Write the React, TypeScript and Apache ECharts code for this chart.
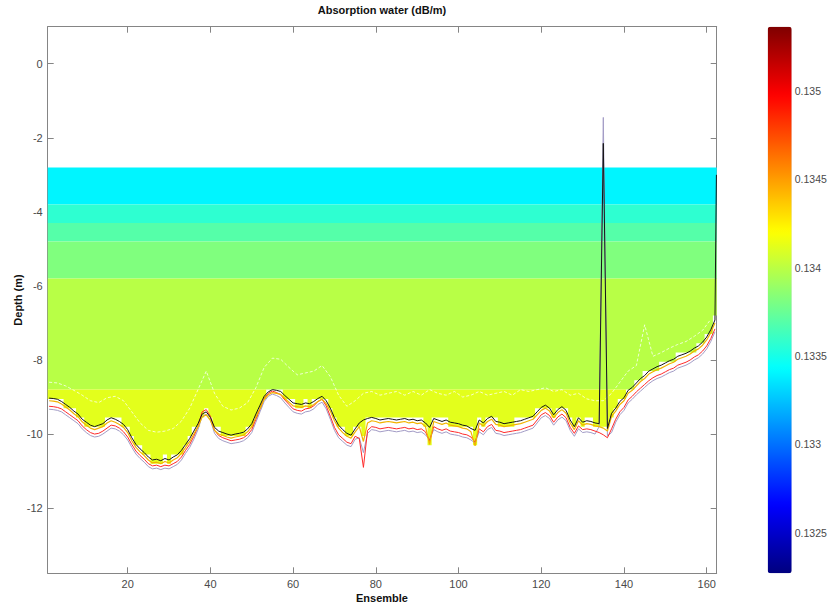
import React, { useEffect, useRef } from 'react';
import * as echarts from 'echarts';

// ---------------- data ----------------
const ensembles: number[] = Array.from({ length: 162 }, (_, i) => i + 1);

// bottom-track depth (black line)
const bottomBlack = [
  -9.03, -9.04, -9.06, -9.12, -9.20, -9.28, -9.38, -9.46, -9.60, -9.68,
  -9.76, -9.80, -9.76, -9.72, -9.62, -9.56, -9.60, -9.66, -9.74, -9.88,
  -10.10, -10.28, -10.40, -10.50, -10.62, -10.70, -10.68, -10.72, -10.66, -10.70,
  -10.62, -10.56, -10.44, -10.28, -10.12, -9.92, -9.72, -9.46, -9.40, -9.55,
  -9.82, -9.92, -9.96, -10.00, -10.03, -10.00, -9.98, -9.95, -9.86, -9.72,
  -9.46, -9.22, -8.98, -8.86, -8.80, -8.82, -8.85, -8.96, -9.06, -9.16,
  -9.18, -9.20, -9.16, -9.18, -9.12, -9.04, -8.98, -9.10, -9.30, -9.56,
  -9.76, -9.88, -9.98, -10.03, -9.86, -9.70, -9.62, -9.58, -9.55, -9.58,
  -9.62, -9.60, -9.58, -9.60, -9.62, -9.60, -9.58, -9.62, -9.60, -9.64,
  -9.62, -9.70, -9.82, -9.58, -9.62, -9.66, -9.62, -9.68, -9.70, -9.72,
  -9.76, -9.78, -9.85, -9.90, -9.62, -9.70, -9.58, -9.52, -9.66, -9.68,
  -9.72, -9.70, -9.68, -9.66, -9.64, -9.60, -9.56, -9.52, -9.40, -9.28,
  -9.22, -9.30, -9.48, -9.34, -9.26, -9.36, -9.62, -9.80, -9.56, -9.68,
  -9.64, -9.66, -9.70, -9.72, -2.15, -9.85, -9.44, -9.30, -9.12, -9.02,
  -8.82, -8.74, -8.62, -8.50, -8.42, -8.30, -8.24, -8.18, -8.14, -8.08,
  -8.02, -7.98, -7.90, -7.86, -7.82, -7.76, -7.68, -7.62, -7.52, -7.38,
  -7.18, -6.92,
];
const blackEdgeEnsemble = 162.35;
const blackEdgeDepth = -3.0;

const bottomOrange = [
  -9.10, -9.11, -9.13, -9.19, -9.27, -9.35, -9.45, -9.53, -9.67, -9.76,
  -9.84, -9.88, -9.84, -9.80, -9.70, -9.64, -9.68, -9.74, -9.82, -9.96,
  -10.18, -10.36, -10.48, -10.58, -10.70, -10.78, -10.76, -10.80, -10.74, -10.78,
  -10.70, -10.64, -10.52, -10.36, -10.20, -10.00, -9.80, -9.54, -9.48, -9.63,
  -9.90, -10.00, -10.04, -10.08, -10.11, -10.08, -10.06, -10.03, -9.94, -9.80,
  -9.54, -9.30, -9.06, -8.94, -8.88, -8.90, -8.93, -9.04, -9.14, -9.24,
  -9.26, -9.28, -9.24, -9.26, -9.20, -9.12, -9.06, -9.18, -9.38, -9.64,
  -9.84, -9.96, -10.06, -10.11, -9.94, -9.80, -10.20, -9.70, -9.64, -9.66,
  -9.70, -9.68, -9.66, -9.68, -9.70, -9.68, -9.66, -9.70, -9.68, -9.72,
  -9.70, -9.80, -10.28, -9.66, -9.70, -9.74, -9.70, -9.76, -9.78, -9.80,
  -9.84, -9.86, -9.94, -10.32, -9.70, -9.78, -9.66, -9.60, -9.74, -9.76,
  -9.80, -9.78, -9.76, -9.74, -9.72, -9.68, -9.64, -9.60, -9.48, -9.36,
  -9.30, -9.38, -9.56, -9.42, -9.34, -9.44, -9.70, -9.88, -9.64, -9.76,
  -9.72, -9.74, -9.78, -9.80, -9.84, -9.92, -9.52, -9.38, -9.20, -9.10,
  -8.90, -8.82, -8.70, -8.58, -8.50, -8.38, -8.32, -8.26, -8.22, -8.16,
  -8.10, -8.06, -7.98, -7.94, -7.90, -7.84, -7.76, -7.70, -7.60, -7.46,
  -7.26, -7.00,
];

const bottomRed = [
  -9.25, -9.26, -9.28, -9.32, -9.40, -9.48, -9.56, -9.64, -9.78, -9.88,
  -9.96, -10.00, -9.98, -9.92, -9.84, -9.76, -9.78, -9.84, -9.94, -10.08,
  -10.28, -10.46, -10.58, -10.68, -10.80, -10.86, -10.84, -10.88, -10.84, -10.86,
  -10.80, -10.74, -10.62, -10.44, -10.28, -10.06, -9.80, -9.40, -9.34, -9.52,
  -9.90, -10.04, -10.10, -10.14, -10.18, -10.16, -10.14, -10.10, -10.02, -9.88,
  -9.60, -9.32, -9.04, -8.90, -8.84, -8.88, -8.94, -9.08, -9.20, -9.32,
  -9.36, -9.38, -9.32, -9.30, -9.24, -9.12, -9.06, -9.24, -9.52, -9.82,
  -10.02, -10.12, -10.22, -10.26, -10.06, -10.12, -10.90, -9.90, -9.80, -9.82,
  -9.86, -9.84, -9.82, -9.84, -9.86, -9.84, -9.82, -9.86, -9.84, -9.88,
  -9.86, -9.94, -10.18, -9.80, -9.86, -9.90, -9.86, -9.92, -9.94, -9.96,
  -10.00, -10.02, -10.08, -10.22, -9.86, -9.94, -9.80, -9.74, -9.90, -9.92,
  -9.96, -9.94, -9.92, -9.90, -9.88, -9.84, -9.80, -9.76, -9.62, -9.48,
  -9.42, -9.50, -9.68, -9.54, -9.46, -9.56, -9.82, -9.98, -9.78, -9.88,
  -9.86, -9.88, -9.92, -9.96, -10.02, -10.10, -9.86, -9.60, -9.40, -9.28,
  -9.08, -8.98, -8.86, -8.76, -8.66, -8.56, -8.48, -8.42, -8.38, -8.32,
  -8.26, -8.22, -8.14, -8.10, -8.06, -8.00, -7.92, -7.86, -7.76, -7.62,
  -7.42, -7.16,
];

const bottomLavender = [
  -9.33, -9.34, -9.36, -9.40, -9.48, -9.56, -9.64, -9.72, -9.86, -9.96,
  -10.04, -10.08, -10.06, -10.00, -9.92, -9.84, -9.86, -9.92, -10.02, -10.16,
  -10.36, -10.54, -10.66, -10.76, -10.88, -10.94, -10.92, -10.96, -10.92, -10.94,
  -10.88, -10.82, -10.70, -10.52, -10.36, -10.14, -9.88, -9.52, -9.46, -9.62,
  -9.98, -10.12, -10.18, -10.22, -10.26, -10.24, -10.22, -10.18, -10.10, -9.96,
  -9.68, -9.40, -9.12, -8.98, -8.92, -8.96, -9.02, -9.16, -9.28, -9.40,
  -9.44, -9.46, -9.40, -9.38, -9.32, -9.20, -9.14, -9.32, -9.60, -9.90,
  -10.10, -10.20, -10.30, -10.34, -10.14, -10.10, -10.50, -9.98, -9.88, -9.90,
  -9.94, -9.92, -9.90, -9.92, -9.94, -9.92, -9.90, -9.94, -9.92, -9.96,
  -9.94, -10.02, -10.16, -9.88, -9.94, -9.98, -9.94, -10.00, -10.02, -10.04,
  -10.08, -10.10, -10.16, -10.24, -9.94, -10.02, -9.88, -9.82, -9.98, -10.00,
  -10.04, -10.02, -10.00, -9.98, -9.96, -9.92, -9.88, -9.84, -9.70, -9.56,
  -9.50, -9.58, -9.76, -9.62, -9.54, -9.64, -9.90, -10.06, -9.86, -9.96,
  -9.94, -9.96, -10.00, -9.80, -1.45, -10.05, -9.96, -9.68, -9.48, -9.36,
  -9.16, -9.06, -8.94, -8.84, -8.74, -8.64, -8.56, -8.50, -8.46, -8.40,
  -8.34, -8.30, -8.22, -8.18, -8.14, -8.08, -8.00, -7.94, -7.84, -7.70,
  -7.50, -7.24,
];

// white dashed line, read at odd ensembles 1, 3, ..., 161
const whiteEnsembles: number[] = Array.from({ length: 81 }, (_, i) => 2 * i + 1);
const whiteLine = [
  -8.60, -8.62, -8.70, -8.82, -8.95, -9.10, -9.15, -9.02, -8.98, -9.10,
  -9.40, -9.70, -9.90, -9.95, -9.92, -9.85, -9.65, -9.30, -8.80, -8.30,
  -8.90, -9.25, -9.35, -9.30, -9.15, -8.75, -8.20, -7.95, -7.98, -8.20,
  -8.40, -8.35, -8.30, -8.15, -8.45, -8.95, -9.25, -9.10, -8.90, -8.85,
  -8.95, -8.90, -8.85, -8.95, -8.85, -8.95, -8.80, -8.90, -8.95, -8.85,
  -9.00, -8.95, -8.85, -8.95, -8.90, -8.85, -8.95, -8.80, -8.85, -8.80,
  -8.75, -8.85, -8.80, -8.95, -8.90, -9.05, -9.10, -9.10, -8.90, -8.60,
  -8.30, -8.15, -7.05, -7.90, -7.80, -7.68, -7.58, -7.50, -7.36, -7.20,
  -6.90,
];

// absorption (dB/m) per depth band
const bandTop = [-2.8, -3.8, -4.3, -4.8, -5.8, -8.8];
const bandBottom = [-3.8, -4.3, -4.8, -5.8, -8.8, -13.5];
const bandValue = [0.1334, 0.13357, 0.13369, 0.13382, 0.13399, 0.13412];
const firstBinTop = -2.8;
const binSize = 0.25;

const xTicks = [20, 40, 60, 80, 100, 120, 140, 160];
const yTicks = [0, -2, -4, -6, -8, -10, -12];
const cbTicks = [0.1325, 0.133, 0.1335, 0.134, 0.1345, 0.135];

const X_MIN = 0.66;
const X_MAX = 162.42;
const Y_MIN = -13.76;
const Y_MAX = 1.0;
const CB_MIN = 0.13227;
const CB_MAX = 0.135365;

const jet = ['#00007f', '#0000ff', '#007fff', '#00ffff', '#7fff7f', '#ffff00', '#ff7f00', '#ff0000', '#7f0000'];

const FONT = '"Liberation Sans", Arial, Helvetica, sans-serif';
const FRAME = '#858585';
const LABEL = '#4a4a4a';

// last valid bin bottom for each ensemble (bins fully above the orange line)
const cutoff = bottomOrange.map((d) => firstBinTop - binSize * Math.floor((firstBinTop - d + 0.04) / binSize));

export default function App() {
  const ref = useRef<HTMLDivElement>(null);
  useEffect(() => {
    if (!ref.current) return;
    const chart = echarts.init(ref.current, undefined, { renderer: 'svg' });

    const gridL = 47.7, gridT = 26.7, gridW = 669, gridH = 546.6;

    const tickStyle = { color: FRAME, width: 1 };

    const option: any = {
      animation: false,
      backgroundColor: '#ffffff',
      grid: [
        { left: gridL, top: gridT, width: gridW, height: gridH, containLabel: false },
        { left: 767.7, top: gridT, width: 24, height: gridH, containLabel: false },
      ],
      xAxis: [
        {
          type: 'value', gridIndex: 0, min: X_MIN, max: X_MAX, position: 'bottom',
          axisLine: { show: true, onZero: false, lineStyle: tickStyle },
          axisTick: { show: true, inside: true, length: 6, customValues: xTicks, lineStyle: tickStyle },
          axisLabel: { show: true, customValues: xTicks, margin: 5, fontSize: 11, color: LABEL, fontFamily: FONT },
          splitLine: { show: false },
        },
        {
          type: 'value', gridIndex: 0, min: X_MIN, max: X_MAX, position: 'top',
          axisLine: { show: true, onZero: false, lineStyle: tickStyle },
          axisTick: { show: true, inside: true, length: 6, customValues: xTicks, lineStyle: tickStyle },
          axisLabel: { show: false },
          splitLine: { show: false },
        },
        { type: 'value', gridIndex: 1, min: 0, max: 1, show: false },
      ],
      yAxis: [
        {
          type: 'value', gridIndex: 0, min: Y_MIN, max: Y_MAX, position: 'left',
          axisLine: { show: true, onZero: false, lineStyle: tickStyle },
          axisTick: { show: true, inside: true, length: 6, customValues: yTicks, lineStyle: tickStyle },
          axisLabel: { show: true, customValues: yTicks, margin: 5, fontSize: 11, color: LABEL, fontFamily: FONT },
          splitLine: { show: false },
        },
        {
          type: 'value', gridIndex: 0, min: Y_MIN, max: Y_MAX, position: 'right',
          axisLine: { show: true, onZero: false, lineStyle: tickStyle },
          axisTick: { show: true, inside: true, length: 6, customValues: yTicks, lineStyle: tickStyle },
          axisLabel: { show: false },
          splitLine: { show: false },
        },
        {
          type: 'value', gridIndex: 1, min: CB_MIN, max: CB_MAX, position: 'right',
          axisLine: { show: false },
          axisTick: { show: false },
          axisLabel: {
            show: true, customValues: cbTicks, margin: 3, fontSize: 10.5, color: LABEL, fontFamily: FONT,
            formatter: (v: number) => String(+(+v).toFixed(4)),
          },
          splitLine: { show: false },
        },
      ],
      visualMap: {
        type: 'continuous',
        min: CB_MIN,
        max: CB_MAX,
        dimension: 2,
        seriesIndex: 0,
        calculable: false,
        hoverLink: false,
        show: true,
        orient: 'vertical',
        left: 767.7,
        top: gridT,
        itemWidth: 24,
        itemHeight: gridH,
        padding: 0,
        text: null,
        inRange: { color: jet },
      },
      graphic: [
        {
          type: 'text', x: 382, y: 10, silent: true,
          style: { text: 'Absorption water (dB/m)', font: `bold 11px ${FONT}`, fill: '#111', align: 'center', verticalAlign: 'middle', textAlign: 'center', textVerticalAlign: 'middle' },
        },
        {
          type: 'text', x: 382, y: 598, silent: true,
          style: { text: 'Ensemble', font: `bold 11px ${FONT}`, fill: '#111', align: 'center', verticalAlign: 'middle', textAlign: 'center', textVerticalAlign: 'middle' },
        },
        {
          type: 'text', x: 18, y: 300, rotation: Math.PI / 2, silent: true,
          style: { text: 'Depth (m)', font: `bold 11px ${FONT}`, fill: '#111', align: 'center', verticalAlign: 'middle', textAlign: 'center', textVerticalAlign: 'middle' },
        },
      ],
      series: [
        {
          type: 'custom',
          coordinateSystem: 'cartesian2d',
          xAxisIndex: 0,
          yAxisIndex: 0,
          silent: true,
          z: 1,
          data: bandValue.map((v, i) => [bandTop[i], bandBottom[i], v]),
          renderItem: (params: any, api: any) => {
            const i = params.dataIndex;
            const top = bandTop[i];
            const bot = bandBottom[i];
            const pts: number[][] = [];
            pts.push(api.coord([X_MIN, top]));
            pts.push(api.coord([X_MAX, top]));
            for (let k = ensembles.length - 1; k >= 0; k--) {
              const e = ensembles[k];
              const y = Math.min(top, Math.max(bot, cutoff[k]));
              const xr = Math.min(X_MAX, e + 0.5);
              const xl = Math.max(X_MIN, e - 0.5);
              pts.push(api.coord([xr, y]));
              pts.push(api.coord([xl, y]));
            }
            return {
              type: 'polygon',
              shape: { points: pts },
              style: { fill: api.visual('color'), stroke: null, lineWidth: 0 },
            };
          },
        },
        {
          type: 'line', xAxisIndex: 0, yAxisIndex: 0, silent: true, symbol: 'none', z: 2,
          data: whiteEnsembles.map((e, k) => [e, whiteLine[k]]),
          lineStyle: { color: '#ffffff', width: 1, type: [3, 2], opacity: 0.75 },
        },
        {
          type: 'line', xAxisIndex: 0, yAxisIndex: 0, silent: true, symbol: 'none', z: 3,
          data: ensembles.map((e, k) => [e, bottomLavender[k]]),
          lineStyle: { color: '#a39cc6', width: 1 },
        },
        {
          type: 'line', xAxisIndex: 0, yAxisIndex: 0, silent: true, symbol: 'none', z: 4,
          data: ensembles.map((e, k) => [e, bottomRed[k]]),
          lineStyle: { color: '#ff2a2a', width: 1 },
        },
        {
          type: 'line', xAxisIndex: 0, yAxisIndex: 0, silent: true, symbol: 'none', z: 5,
          data: ensembles.map((e, k) => [e, bottomOrange[k]]),
          lineStyle: { color: '#f2b400', width: 1.2 },
        },
        {
          type: 'line', xAxisIndex: 0, yAxisIndex: 0, silent: true, symbol: 'none', z: 6,
          data: ensembles.map((e, k) => [e, bottomBlack[k]]).concat([[blackEdgeEnsemble, blackEdgeDepth]]),
          lineStyle: { color: '#151515', width: 1 },
        },
        {
          type: 'line', xAxisIndex: 2, yAxisIndex: 2, silent: true, symbol: 'none', data: [],
        },
      ],
    };

    chart.setOption(option);
    return () => chart.dispose();
  }, []);

  return (
    <div style={{ position: 'absolute', left: 0, top: 0, width: 834, height: 606, background: '#fff' }}>
      <div ref={ref} style={{ width: 834, height: 606 }} />
    </div>
  );
}
